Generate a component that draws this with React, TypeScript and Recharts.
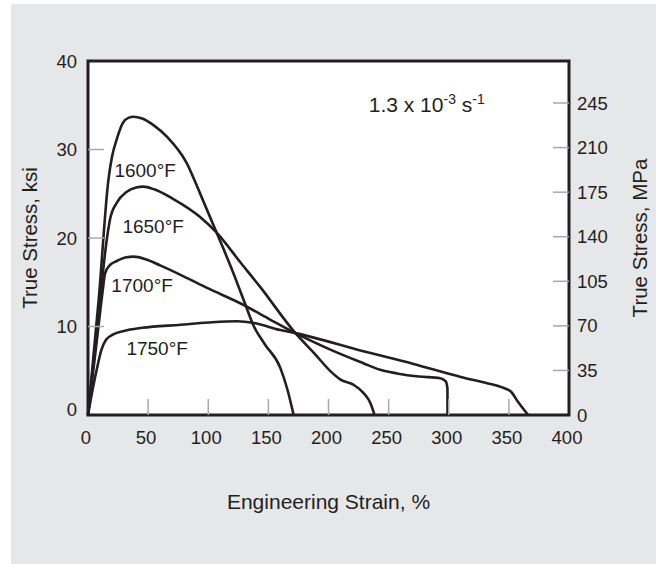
import {
  ComposedChart,
  Line,
  XAxis,
  YAxis,
  CartesianGrid,
  ReferenceArea,
  ReferenceDot,
  Label,
} from 'recharts'

// strain (%) vs true stress (ksi), one array per test temperature
const curve1600 = [
  [0, 0], [9, 13.2], [17, 26.6], [20, 29.2], [24, 31.2], [29, 33], [34, 33.6], [38, 33.7],
  [45, 33.5], [55, 32.7], [66, 31.4], [82, 28.5], [93, 25.1], [107, 20.6], [121, 16],
  [130, 12.8], [138, 10], [147, 8], [160, 5.3], [166, 2.8], [171, 0],
]
const curve1650 = [
  [0, 0], [8, 10.3], [15.6, 19.8], [18.3, 22.1], [24, 24], [32, 25.2], [40, 25.7],
  [46, 25.8], [55, 25.5], [71, 24.4], [93, 22.4], [107, 20.6], [127, 17.2], [143, 14.5],
  [172.5, 9.25], [188, 7], [202, 4.9], [210, 4], [221, 3.4], [229, 2.5], [235, 1.3],
  [238.3, 0],
]
const curve1700 = [
  [0, 0], [7, 8], [12, 13.8], [14.2, 16], [18, 16.9], [24, 17.4], [31, 17.8],
  [38, 17.9], [48, 17.6], [60, 16.9], [79, 15.7], [100, 14.3], [127, 12.6], [150, 10.9],
  [172.5, 9.25], [202, 7.36], [229, 5.85], [243, 5.1], [257, 4.7], [275, 4.35],
  [293, 4.15], [297.5, 3.8], [298.9, 3], [299, 0],
]
const curve1750 = [
  [0, 0], [4, 3], [8, 5.6], [11, 7.3], [15, 8.5], [21, 9.1], [30, 9.5], [45, 9.85],
  [77, 10.2], [100, 10.45], [124, 10.6], [138, 10.4], [160, 9.6], [172.5, 9.25],
  [229, 7.2], [270, 5.8], [310, 4.3], [332, 3.6], [345, 3.1], [352, 2.6], [358, 1.4],
  [366, 0],
]

const curveNames = ['1600°F', '1650°F', '1700°F', '1750°F']
// where each temperature tag sits (strain, ksi)
const tagPositions = [
  [47.5, 27.6],
  [54.2, 21.3],
  [45, 14.7],
  [57.5, 7.5],
]

const strainTicks = [0, 50, 100, 150, 200, 250, 300, 350, 400]
const ksiTicks = [0, 10, 20, 30, 40]
const mpaTicks = [0, 35, 70, 105, 140, 175, 210, 245]

const INK = '#231f20'
const TICK = '#a7a9ac'
const FONT = '"Liberation Sans", Arial, Helvetica, sans-serif'
const TICK_LEN = 16
const TICK_FONT = 18.5

const series = [curve1600, curve1650, curve1700, curve1750].map((pts) =>
  pts.map(([x, y]) => ({ x, y })),
)

function LeftTick(props: any) {
  const { x, y, payload } = props
  const edge = x + 11
  const v = payload.value
  return (
    <g>
      {v > 0 && v < 40 && (
        <line x1={edge} x2={edge + TICK_LEN} y1={y} y2={y} stroke={TICK} strokeWidth={1.5} />
      )}
      <text x={x} y={y} dy={v === 0 ? 1 : 6.5} textAnchor="end" fontSize={TICK_FONT} fontFamily={FONT} fill={INK}>
        {v}
      </text>
    </g>
  )
}

function RightTick(props: any) {
  const { x, y, payload } = props
  const edge = x - 8
  const v = payload.value
  return (
    <g>
      {v > 0 && (
        <line x1={edge - TICK_LEN} x2={edge} y1={y} y2={y} stroke={TICK} strokeWidth={1.5} />
      )}
      <text x={x} y={y} dy={6.5} textAnchor="start" fontSize={TICK_FONT} fontFamily={FONT} fill={INK}>
        {v}
      </text>
    </g>
  )
}

function BottomTick(props: any) {
  const { x, y, payload } = props
  const edge = y - 10
  const v = payload.value
  return (
    <g>
      {v > 0 && v < 400 && (
        <line x1={x} x2={x} y1={edge} y2={edge - TICK_LEN} stroke={TICK} strokeWidth={1.5} />
      )}
      <text x={x - 2} y={y} dy={19} textAnchor="middle" fontSize={TICK_FONT} fontFamily={FONT} fill={INK}>
        {v}
      </text>
    </g>
  )
}

function AxisTitle(props: any) {
  const { viewBox, value, side } = props
  const { x, y, width, height } = viewBox
  if (side === 'bottom') {
    return (
      <text x={x + width / 2} y={y + 94} textAnchor="middle" fontSize={21} fontFamily={FONT} fill={INK}>
        {value}
      </text>
    )
  }
  const cx = side === 'left' ? x + 30 : x + width - 16
  const cy = y + height / 2
  return (
    <text
      x={cx}
      y={cy}
      dy={7}
      textAnchor="middle"
      transform={`rotate(-90 ${cx} ${cy})`}
      fontSize={20.5}
      fontFamily={FONT}
      fill={INK}
    >
      {value}
    </text>
  )
}

function RateNote(props: any) {
  const { viewBox } = props
  const cx = viewBox.x + viewBox.width / 2
  const cy = viewBox.y + viewBox.height / 2
  return (
    <text x={cx} y={cy} dy={7.5} textAnchor="middle" fontSize={21} fontFamily={FONT} fill={INK}>
      1.3 x 10
      <tspan fontSize={14} dy={-8}>-3</tspan>
      <tspan dy={8}> s</tspan>
      <tspan fontSize={14} dy={-8}>-1</tspan>
    </text>
  )
}

export default function App() {
  return (
    <div style={{ position: 'absolute', left: 0, top: 0, width: 656, height: 564, background: '#fff' }}>
      <div style={{ position: 'absolute', left: 11, top: 4, right: 0, bottom: 0, background: '#e6e7e8' }} />
      <div style={{ position: 'absolute', left: 0, top: 0 }}>
        <ComposedChart width={656} height={564} margin={{ top: 61, right: 0, bottom: 0, left: 0 }}>
          <CartesianGrid fill="#ffffff" stroke="none" yAxisId="ksi" />
          <XAxis
            type="number"
            dataKey="x"
            domain={[0, 400]}
            ticks={strainTicks}
            axisLine={false}
            tickLine={false}
            tickSize={0}
            tickMargin={10}
            height={149}
            tick={<BottomTick />}
            interval={0}
          >
            <Label content={<AxisTitle value="Engineering Strain, %" side="bottom" />} />
          </XAxis>
          <YAxis
            yAxisId="ksi"
            type="number"
            domain={[0, 40]}
            ticks={ksiTicks}
            axisLine={false}
            tickLine={false}
            tickSize={0}
            tickMargin={11}
            width={88}
            tick={<LeftTick />}
            interval={0}
          >
            <Label content={<AxisTitle value="True Stress, ksi" side="left" />} />
          </YAxis>
          <YAxis
            yAxisId="mpa"
            orientation="right"
            type="number"
            domain={[0, 278]}
            allowDataOverflow
            ticks={mpaTicks}
            axisLine={false}
            tickLine={false}
            tickSize={0}
            tickMargin={8}
            width={87}
            tick={<RightTick />}
            interval={0}
          >
            <Label content={<AxisTitle value="True Stress, MPa" side="right" />} />
          </YAxis>

          {series.map((data, i) => (
            <Line
              key={curveNames[i]}
              yAxisId="ksi"
              data={data}
              dataKey="y"
              type="monotone"
              stroke={INK}
              strokeWidth={2.6}
              dot={false}
              activeDot={false}
              isAnimationActive={false}
            />
          ))}

          {curveNames.map((name, i) => (
            <ReferenceDot
              key={name}
              yAxisId="ksi"
              x={tagPositions[i][0]}
              y={tagPositions[i][1]}
              r={1}
              fill="none"
              stroke="none"
              label={{ value: name, position: 'center', fontSize: 19, fontFamily: FONT, fill: INK }}
            />
          ))}
          <ReferenceDot
            yAxisId="ksi"
            x={281.7}
            y={35.1}
            r={1}
            fill="none"
            stroke="none"
            label={<RateNote />}
          />

          <ReferenceArea
            yAxisId="ksi"
            x1={0}
            x2={400}
            y1={0}
            y2={40}
            fill="none"
            stroke={INK}
            strokeWidth={3}
          />
        </ComposedChart>
      </div>
    </div>
  )
}
